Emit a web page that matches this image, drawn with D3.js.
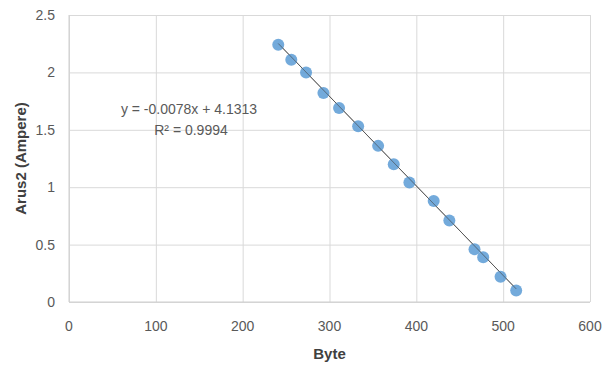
<!DOCTYPE html>
<html>
<head>
<meta charset="utf-8">
<script src="https://cdn.jsdelivr.net/npm/d3@7"></script>
<style>
  body { margin: 0; background: #fff; }
  text { font-family: "Liberation Sans Narrow", "Liberation Sans", Arial, sans-serif; }
</style>
</head>
<body>
<script>
// data
var bytes = [241, 256, 273, 293, 311, 333, 356, 374, 392, 420, 438, 467, 477, 497, 515];
var arus = [2.24, 2.11, 2.00, 1.82, 1.69, 1.53, 1.36, 1.20, 1.04, 0.88, 0.71, 0.46, 0.39, 0.22, 0.10];
var xTicks = [0, 100, 200, 300, 400, 500, 600];
var yTicks = [0, 0.5, 1, 1.5, 2, 2.5];
var slope = -0.0078, intercept = 4.1313;
var eqLabel = "y = -0.0078x + 4.1313";
var r2Label = "R² = 0.9994";

function init() {
    var w = 608, h = 373;
    var mLeft = 69, mRight = 590, mTop = 15, mBottom = 302;

    var x = d3.scaleLinear().domain([0, 600]).range([mLeft, mRight]);
    var y = d3.scaleLinear().domain([0, 2.5]).range([mBottom, mTop]);

    var svg = d3.select("body").append("svg")
        .attr("width", w)
        .attr("height", h);

    // grid lines
    svg.append("g")
        .attr("transform", "translate(0," + mBottom + ")")
        .call(d3.axisBottom(x).tickValues(xTicks).tickSize(-(mBottom - mTop)).tickFormat(""))
        .call(function (g) { g.select(".domain").remove(); })
        .selectAll("line").attr("stroke", "#d9d9d9");

    svg.append("g")
        .attr("transform", "translate(" + mLeft + ",0)")
        .call(d3.axisLeft(y).tickValues(yTicks).tickSize(-(mRight - mLeft)).tickFormat(""))
        .call(function (g) { g.select(".domain").remove(); })
        .selectAll("line").attr("stroke", "#d9d9d9");

    // axis lines
    svg.append("line")
        .attr("x1", mLeft).attr("x2", mRight)
        .attr("y1", mBottom).attr("y2", mBottom)
        .attr("stroke", "#cfcfcf");
    svg.append("line")
        .attr("x1", mLeft).attr("x2", mLeft)
        .attr("y1", mTop).attr("y2", mBottom)
        .attr("stroke", "#cfcfcf");

    // tick labels
    svg.selectAll("text.xlab")
        .data(xTicks)
        .enter().append("text")
        .attr("class", "xlab")
        .attr("x", function (d) { return x(d); })
        .attr("y", mBottom + 29)
        .attr("text-anchor", "middle")
        .attr("font-size", 14)
        .attr("fill", "#595959")
        .text(function (d) { return d; });

    svg.selectAll("text.ylab")
        .data(yTicks)
        .enter().append("text")
        .attr("class", "ylab")
        .attr("x", mLeft - 14)
        .attr("y", function (d) { return y(d) + 5; })
        .attr("text-anchor", "end")
        .attr("font-size", 14)
        .attr("fill", "#595959")
        .text(function (d) { return d; });

    // trendline
    var x0 = d3.min(bytes), x1 = d3.max(bytes);
    svg.append("line")
        .attr("x1", x(x0)).attr("y1", y(slope * x0 + intercept))
        .attr("x2", x(x1)).attr("y2", y(slope * x1 + intercept))
        .attr("stroke", "#595959")
        .attr("stroke-width", 1);

    // points
    var pts = bytes.map(function (b, i) { return [b, arus[i]]; });
    svg.selectAll("circle")
        .data(pts)
        .enter().append("circle")
        .attr("cx", function (d) { return x(d[0]); })
        .attr("cy", function (d) { return y(d[1]); })
        .attr("r", 6)
        .attr("fill", "#5b9bd5")
        .attr("fill-opacity", 0.85);

    // redraw trendline over the points (it shows through in the picture)
    svg.append("line")
        .attr("x1", x(x0)).attr("y1", y(slope * x0 + intercept))
        .attr("x2", x(x1)).attr("y2", y(slope * x1 + intercept))
        .attr("stroke", "#595959")
        .attr("stroke-opacity", 0.6)
        .attr("stroke-width", 1);

    // equation labels
    svg.append("text")
        .attr("x", 189).attr("y", 114)
        .attr("text-anchor", "middle")
        .attr("font-size", 14)
        .attr("fill", "#595959")
        .text(eqLabel);
    svg.append("text")
        .attr("x", 191).attr("y", 135)
        .attr("text-anchor", "middle")
        .attr("font-size", 14)
        .attr("fill", "#595959")
        .text(r2Label);

    // axis titles
    svg.append("text")
        .attr("x", (mLeft + mRight) / 2)
        .attr("y", 359)
        .attr("text-anchor", "middle")
        .attr("font-size", 15)
        .attr("font-weight", "bold")
        .attr("fill", "#404040")
        .text("Byte");

    svg.append("text")
        .attr("transform", "translate(26," + (mTop + mBottom) / 2 + ") rotate(-90)")
        .attr("text-anchor", "middle")
        .attr("font-size", 15)
        .attr("font-weight", "bold")
        .attr("fill", "#404040")
        .text("Arus2 (Ampere)");
}
window.onload = init;
</script>
</body>
</html>
